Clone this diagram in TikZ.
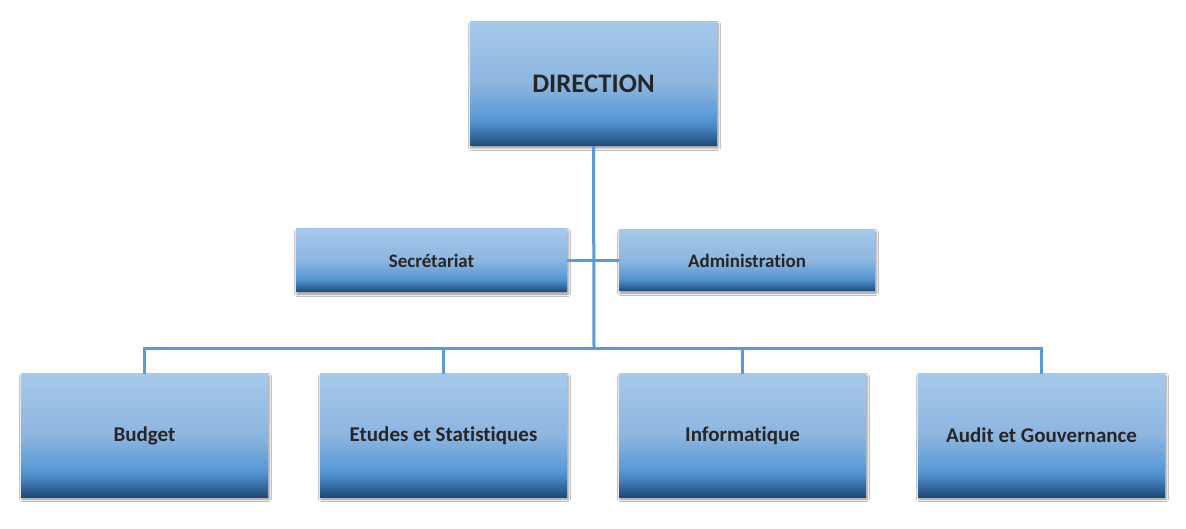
\documentclass[tikz,border=0pt]{standalone}
\usepackage{fontspec}
\setmainfont{Carlito}[Ligatures=NoCommon]
\usetikzlibrary{shadows.blur}
\definecolor{cTop}{HTML}{A6C9EA}
\definecolor{cMid}{HTML}{8DB5E0}
\definecolor{cLow}{HTML}{5B9BD5}
\definecolor{cLow2}{HTML}{4F8ECB}
\definecolor{cDark1}{HTML}{34689E}
\definecolor{cBot}{HTML}{1F4A76}
\definecolor{lineblue}{HTML}{5B9BD5}
\definecolor{txt}{HTML}{262626}
\pgfdeclareverticalshading{orgshade}{100bp}{%
  color(0bp)=(cBot); color(25bp)=(cBot); color(29bp)=(cDark1);
  color(34bp)=(cLow2); color(37bp)=(cLow); color(50bp)=(cMid);
  color(75bp)=(cTop); color(100bp)=(cTop)}
\tikzset{
  orgbox/.style={rectangle, shading=orgshade, inner sep=0pt, text=txt,
    align=center,
    blur shadow={shadow xshift=1pt, shadow yshift=-2pt, shadow blur radius=2.5pt, shadow opacity=45}},
  topfont/.style={font=\fontsize{26.8}{32}\selectfont\bfseries},
  midfont/.style={font=\fontsize{19}{23}\selectfont\bfseries},
  lowfont/.style={font=\fontsize{21}{25}\selectfont\bfseries},
  conn/.style={draw=lineblue, line width=3pt}
}
\begin{document}
\begin{tikzpicture}[x=1pt,y=-1pt]
\useasboundingbox (0,0) rectangle (1186,529);
\fill[white] (0,0) rectangle (1186,529);
\coordinate (bus) at (594,348);
\node[orgbox, topfont, minimum width=247pt, minimum height=124pt] (dir) at (593.5,84) {DIRECTION};
\node[orgbox, midfont, minimum width=271pt, minimum height=63pt] (sec) at (431.5,260.5) {Secrétariat};
\node[orgbox, midfont, minimum width=256pt, minimum height=61pt] (adm) at (747,260.5) {Administration};
\node[orgbox, lowfont, minimum width=247pt, minimum height=123pt] (b1) at (144.5,435.5) {Budget};
\node[orgbox, lowfont, minimum width=247pt, minimum height=123pt] (b2) at (443.5,435.5) {Etudes et Statistiques};
\node[orgbox, lowfont, minimum width=247pt, minimum height=123pt] (b3) at (742.5,435.5) {Informatique};
\node[orgbox, lowfont, minimum width=247pt, minimum height=123pt] (b4) at (1041.5,435.5) {Audit et Gouvernance};
\draw[conn] (dir.south) -- (bus);
\draw[conn] (sec.east) -- (adm.west);
\draw[conn] (b1.north) |- (bus) -| (b4.north);
\draw[conn] (b2.north) -- (b2.north |- bus);
\draw[conn] (b3.north) -- (b3.north |- bus);
\end{tikzpicture}
\end{document}
